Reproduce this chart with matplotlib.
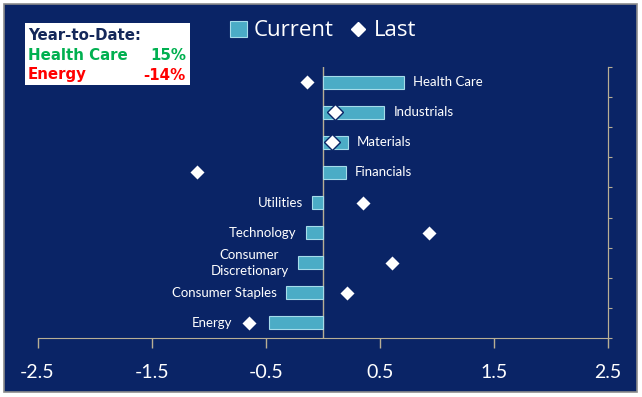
import matplotlib.pyplot as plt
from matplotlib.patches import Rectangle, Patch
from matplotlib.lines import Line2D
import numpy as np

# sector data, top to bottom
sectors = ["Health Care", "Industrials", "Materials", "Financials", "Utilities",
           "Technology", "Consumer\nDiscretionary", "Consumer Staples", "Energy"]
current = [0.71, 0.54, 0.22, 0.20, -0.09, -0.15, -0.22, -0.32, -0.47]
last = [-0.14, 0.11, 0.08, -1.10, 0.35, 0.93, 0.61, 0.21, -0.65]
xticks = [-2.5, -1.5, -0.5, 0.5, 1.5, 2.5]

navy = "#0a2466"
axcol = "#b8ae94"
barcol = "#4bacc6"

fig = plt.figure(figsize=(6.42, 3.97), dpi=100)
fig.patch.set_facecolor("white")
# dark panel with grey border
fig.patches.append(Rectangle((4 / 642, 5 / 397), 633 / 642, 388 / 397, transform=fig.transFigure,
                             facecolor=navy, edgecolor="#8c8c8c", lw=1.2, zorder=-10))

ax = fig.add_axes([37.5 / 642, 59 / 397, 570.5 / 642, 271 / 397])
ax.set_facecolor("none")

y = np.arange(len(sectors))
ax.barh(y, current, height=0.43, color=barcol, edgecolor="#a6dcea", lw=0.8, zorder=2)
ax.plot(last, y, ls="none", marker="D", ms=7.8, mfc="white", mec=navy, mew=1.0, zorder=3)

# category labels at the bar ends (moved past the diamond if it sits just beyond the bar)
for yi, v, p, name in zip(y, current, last, sectors):
    if v >= 0:
        ax.annotate(name, (v, yi), xytext=(6.5, 0), textcoords="offset points",
                    ha="left", va="center", color="white", fontsize=9.5, family="Lato")
    else:
        anchor, off = v, -6.5
        if p < v and v - p < 0.4:
            anchor, off = p, -12
        ax.annotate(name, (anchor, yi), xytext=(off, 0), textcoords="offset points",
                    ha="right", va="center", color="white", fontsize=9.5, family="Lato",
                    multialignment="center", linespacing=1.4)

ax.set_xlim(-2.5, 2.5)
ax.set_ylim(len(sectors) - 0.5, -0.5)
ax.set_xticks(xticks)
ax.set_xticklabels([str(t) for t in xticks], color="white", fontsize=14, family="Lato")
ax.tick_params(axis="x", direction="out", length=7, color=axcol, width=1, pad=12)
ax.set_yticks([])

for s in ["top", "left"]:
    ax.spines[s].set_visible(False)
ax.spines["bottom"].set_color(axcol)
ax.spines["right"].set_color(axcol)
ax.axvline(0, color=axcol, lw=1, zorder=1)

# right axis with tick marks between categories
ax2 = ax.twinx()
ax2.set_ylim(len(sectors) - 0.5, -0.5)
ax2.set_yticks(np.arange(len(sectors) + 1) - 0.5)
ax2.set_yticklabels([])
ax2.tick_params(axis="y", direction="out", length=3, color=axcol)
for s in ["top", "left", "bottom"]:
    ax2.spines[s].set_visible(False)
ax2.spines["right"].set_color(axcol)

# legend
handles = [Patch(facecolor=barcol, edgecolor="#a6dcea", lw=0.8),
           Line2D([], [], ls="none", marker="D", ms=7, mfc="white", mec="white")]
leg = fig.legend(handles, ["Current", "Last"], loc="center", bbox_to_anchor=(323 / 642, 1 - 31 / 397),
                 ncol=2, frameon=False, handlelength=0.75, handleheight=0.75,
                 handletextpad=0.3, columnspacing=0.75, prop={"family": "Open Sans", "size": 16})
for t in leg.get_texts():
    t.set_color("white")

# year-to-date box
fig.patches.append(Rectangle((25 / 642, 1 - 85 / 397), 165 / 642, 62 / 397, transform=fig.transFigure,
                             facecolor="white", edgecolor="none", zorder=1))
fs = 10.8
fig.text(28 / 642, 1 - 35 / 397, "Year-to-Date:", color="#14285a", fontsize=fs, fontweight="bold",
         va="center", ha="left")
fig.text(28 / 642, 1 - 55 / 397, "Health Care", color="#00b050", fontsize=fs, fontweight="bold",
         va="center", ha="left")
fig.text(186 / 642, 1 - 55 / 397, "15%", color="#00b050", fontsize=fs, fontweight="bold",
         va="center", ha="right")
fig.text(28 / 642, 1 - 75 / 397, "Energy", color="#ff0000", fontsize=fs, fontweight="bold",
         va="center", ha="left")
fig.text(186 / 642, 1 - 75 / 397, "-14%", color="#ff0000", fontsize=fs, fontweight="bold",
         va="center", ha="right")

fig.savefig("out.png", dpi=100, facecolor=fig.get_facecolor())
